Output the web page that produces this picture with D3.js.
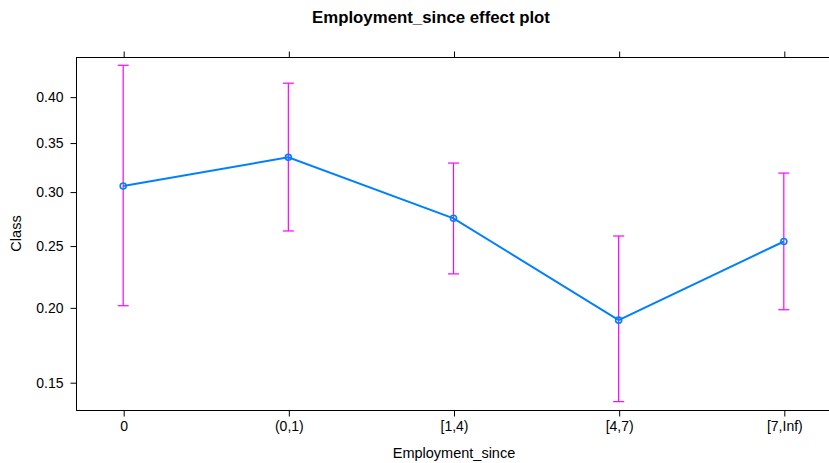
<!DOCTYPE html>
<html>
<head>
<meta charset="utf-8">
<script src="https://cdn.jsdelivr.net/npm/d3@7"></script>
<style>
  html, body { margin: 0; padding: 0; background: #fff; }
  svg { display: block; font-family: "Liberation Sans", Arial, sans-serif; }
</style>
</head>
<body>
<svg id="chart" width="829" height="463"></svg>
<script>
// Employment_since levels and fitted probabilities with confidence limits
const categories = ["0", "(0,1)", "[1,4)", "[4,7)", "[7,Inf)"];
const fit   = [0.306, 0.335, 0.275, 0.191, 0.254];
const lower = [0.2016, 0.2634, 0.2265, 0.1391, 0.1986];
const upper = [0.4361, 0.4157, 0.3291, 0.2589, 0.3189];
const yTicks = [0.15, 0.20, 0.25, 0.30, 0.35, 0.40];
const yRange = [0.1345, 0.4456];

const svg = d3.select("#chart");
const frame = { left: 76, right: 831, top: 57, bottom: 410 };

const logit = p => Math.log(p / (1 - p));

// x: categorical positions with padding at each end
const x = d3.scalePoint()
  .domain(categories)
  .range([frame.left, frame.right])
  .padding(0.2857);

// y: linear in logit(p)
const yLin = d3.scaleLinear()
  .domain([logit(yRange[0]), logit(yRange[1])])
  .range([frame.bottom, frame.top]);
const y = p => yLin(logit(p));

// frame
svg.append("rect")
  .attr("x", frame.left + 0.5).attr("y", frame.top + 0.5)
  .attr("width", frame.right - frame.left).attr("height", frame.bottom - frame.top)
  .attr("fill", "none").attr("stroke", "#000").attr("stroke-width", 1);

// bottom axis
const gx = svg.append("g")
  .attr("transform", `translate(0.5,${frame.bottom + 0.5})`)
  .call(d3.axisBottom(x).tickSize(6).tickPadding(5));
gx.select(".domain").remove();
gx.selectAll("text").attr("font-size", 14).attr("fill", "#000")
  .attr("font-family", "Liberation Sans, Arial, sans-serif");

// top axis ticks without labels
const gt = svg.append("g")
  .attr("transform", `translate(0.5,${frame.top + 0.5})`)
  .call(d3.axisTop(x).tickSize(6).tickFormat(""));
gt.select(".domain").remove();

// left axis on logit scale
const gy = svg.append("g")
  .attr("transform", `translate(${frame.left + 0.5},0)`)
  .call(d3.axisLeft(yLin)
    .tickValues(yTicks.map(logit))
    .tickFormat((d, i) => yTicks[i].toFixed(2))
    .tickSize(6).tickPadding(7));
gy.select(".domain").remove();
gy.selectAll("text").attr("font-size", 14).attr("fill", "#000")
  .attr("font-family", "Liberation Sans, Arial, sans-serif");

// confidence interval bars
const cap = 5.5;
const ci = svg.append("g").attr("stroke", "#FF00FF").attr("stroke-width", 1.2).attr("fill", "none");
categories.forEach((c, i) => {
  const cx = x(c);
  ci.append("line").attr("x1", cx).attr("x2", cx).attr("y1", y(lower[i])).attr("y2", y(upper[i]));
  ci.append("line").attr("x1", cx - cap).attr("x2", cx + cap).attr("y1", y(upper[i])).attr("y2", y(upper[i]));
  ci.append("line").attr("x1", cx - cap).attr("x2", cx + cap).attr("y1", y(lower[i])).attr("y2", y(lower[i]));
});

// fitted line and points
const pts = categories.map((c, i) => [x(c), y(fit[i])]);
svg.append("path")
  .attr("d", d3.line()(pts))
  .attr("fill", "none").attr("stroke", "#0080FF").attr("stroke-width", 2);
svg.append("g").selectAll("circle").data(pts).join("circle")
  .attr("cx", d => d[0]).attr("cy", d => d[1]).attr("r", 3)
  .attr("fill", "none").attr("stroke", "#0080FF").attr("stroke-width", 1.6);

// titles
svg.append("text")
  .attr("x", 431).attr("y", 23)
  .attr("text-anchor", "middle").attr("font-size", 16.8).attr("font-weight", "bold")
  .text("Employment_since effect plot");
svg.append("text")
  .attr("x", 454).attr("y", 458)
  .attr("text-anchor", "middle").attr("font-size", 14.5)
  .text("Employment_since");
svg.append("text")
  .attr("transform", `translate(21,${(frame.top + frame.bottom) / 2}) rotate(-90)`)
  .attr("text-anchor", "middle").attr("font-size", 14.5)
  .text("Class");
</script>
</body>
</html>
